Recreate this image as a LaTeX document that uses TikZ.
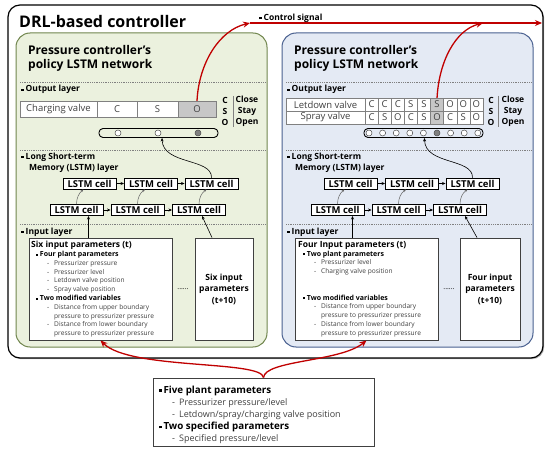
\documentclass[tikz,border=0pt]{standalone}
\usepackage{fontspec}
\setmainfont{Open Sans}
\usetikzlibrary{arrows.meta,shadows}

\definecolor{greenfill}{HTML}{EBF1DE}
\definecolor{greenline}{HTML}{71864E}
\definecolor{bluefill}{HTML}{E4EAF4}
\definecolor{blueline}{HTML}{4A6190}
\definecolor{sigred}{HTML}{C00000}
\definecolor{txtgray}{HTML}{404040}

\newcommand\fsz[2]{\fontsize{#1}{#2}\selectfont}
\newcommand\sqb{\rule[0.25ex]{0.5ex}{0.5ex}}
\newcommand\hdi[1]{{\fsz{8.5}{9}\bfseries\color{black}#1}}
\newcommand\hds[1]{{\fsz{7}{8}\bfseries\color{black}#1}}
\newcommand\hdb[1]{{\fsz{9.8}{12.2}\bfseries\color{black}#1}}
\newcommand\itm[1]{\hspace*{16pt}\makebox[7pt][l]{-}#1}
\newcommand\cnt[1]{\hspace*{23pt}#1}

\tikzset{
  panel/.style={line width=1pt, rounded corners=14pt, minimum width=251pt, minimum height=314pt},
  ptitle/.style={anchor=north west, align=left, inner sep=0pt, font=\fsz{12}{14}\bfseries},
  lbl/.style={anchor=base west, inner sep=0pt, font=\fsz{8.5}{11}\bfseries},
  sep/.style={draw=gray, densely dotted, line width=0.8pt},
  tcell/.style={draw=gray, fill=white, text=txtgray, font=\fsz{9.5}{10}, inner sep=0pt},
  cso/.style={align=center, inner sep=0pt, font=\fsz{8.5}{11}\bfseries},
  pill/.style={draw, line width=0.9pt, rounded corners=4pt, minimum width=119pt, minimum height=9pt, inner sep=0pt},
  dot/.style={circle, draw=black!70, fill=white, minimum size=6pt, inner sep=0pt, line width=0.5pt},
  lstm/.style={draw, line width=0.9pt, fill=white, font=\fsz{9.5}{10}\bfseries, minimum width=53pt, minimum height=11pt, inner sep=0pt},
  inbox/.style={draw=black!75, line width=0.9pt, fill=white, minimum height=102pt},
  intext/.style={anchor=north west, align=left, inner sep=0pt, text=txtgray, font=\fsz{6.6}{8.8}},
  redarr/.style={draw=sigred, line width=1.3pt, -{Stealth[length=7pt,width=6pt]}},
  blkarr/.style={draw=black, line width=0.6pt, -{Stealth[length=3.5pt,width=3pt]}},
  grayarr/.style={draw=black!60, line width=0.5pt, -{Stealth[length=3pt,width=2.5pt]}},
}

\begin{document}
\begin{tikzpicture}[x=1pt,y=-1pt]
\useasboundingbox (0,0) rectangle (550,452);

% DRL-based controller
\node (drl) [draw, line width=1.2pt, rounded corners=12pt, fill=white, minimum width=535pt, minimum height=353pt,
  drop shadow={shadow xshift=1.2pt, shadow yshift=-1.2pt, opacity=0.6}] at (275.5,181.5) {};
\node (drlt) [anchor=base west, inner sep=0pt, font=\fsz{16}{18}\bfseries] at (19,28) {DRL-based controller};
\node (sigl) [lbl, font=\fsz{8.5}{10}\bfseries] at (259,20.5) {\sqb\ Control signal};

% the two policy networks
\node (pnl) [panel, draw=greenline, fill=greenfill] at (141.5,190) {};
\node (pnr) [panel, draw=blueline, fill=bluefill] at (407.5,190) {};
\node (pnlt) [ptitle] at (28,45) {Pressure controller’s\\policy LSTM network};
\node (pnrt) [ptitle] at (294,45) {Pressure controller’s\\policy LSTM network};

\draw[sep] (20,82) -- (265,82);   \draw[sep] (286,82) -- (531,82);
\draw[sep] (20,150) -- (265,150); \draw[sep] (286,150) -- (531,150);
\draw[sep] (20,224) -- (265,224); \draw[sep] (286,224) -- (531,224);

\node (outl) [lbl] at (21,92) {\sqb\ Output layer};
\node (outr) [lbl] at (287,92) {\sqb\ Output layer};
\node (meml) [lbl, anchor=north west, align=left] at (21,152.5) {\sqb\ Long Short-term\\\hspace*{8pt}Memory (LSTM) layer};
\node (memr) [lbl, anchor=north west, align=left] at (287,152.5) {\sqb\ Long Short-term\\\hspace*{8pt}Memory (LSTM) layer};
\node (inl) [lbl] at (21,234) {\sqb\ Input layer};
\node (inr) [lbl] at (287,234) {\sqb\ Input layer};

% output layer, charging valve
\node (cv) [tcell, minimum width=77pt, minimum height=16pt] at (58.5,109) {Charging valve};
\node (cvC) [tcell, minimum width=40pt, minimum height=16pt] at (117,109) {C};
\node (cvS) [tcell, minimum width=41pt, minimum height=16pt] at (157.5,109) {S};
\node (cvO) [tcell, fill=black!22, minimum width=38pt, minimum height=16pt] at (197,109) {O};
\node (csol) [cso] at (225,111) {C\\S\\O};
\node (cosl) [cso] at (247,111) {Close\\Stay\\Open};
\draw[gray, line width=0.6pt] (233,96) -- (233,127);
\node (pl) [pill] at (158.5,133) {};
\node (pl1) [dot] at (118,133) {};
\node (pl2) [dot] at (158,133) {};
\node (pl3) [dot, fill=black!50] at (198,133) {};

% output layer, letdown and spray valves
\node (ld) [tcell, minimum width=79pt, minimum height=13pt] at (325.5,104.5) {Letdown valve};
\node (sp) [tcell, minimum width=79pt, minimum height=13pt] at (325.5,117.5) {Spray valve};
\foreach \v/\c [count=\k] in {C/white,C/white,C/white,S/white,S/white,S/black!22,O/white,O/white,O/white}
  \node (ld\k) [tcell, fill=\c, minimum width=13.1pt, minimum height=13pt] at ({358.45+13.1*\k},104.5) {\v};
\foreach \v/\c [count=\k] in {C/white,S/white,O/white,C/white,S/white,O/black!22,C/white,S/white,O/white}
  \node (sp\k) [tcell, fill=\c, minimum width=13.1pt, minimum height=13pt] at ({358.45+13.1*\k},117.5) {\v};
\node (csor) [cso] at (491,111) {C\\S\\O};
\node (cosr) [cso] at (513,111) {Close\\Stay\\Open};
\draw[gray, line width=0.6pt] (498,96) -- (498,127);
\node (pr) [pill] at (423.5,133) {};
\foreach \c [count=\k] in {white,white,white,white,white,black!50,white,white,white}
  \node (pr\k) [dot, fill=\c] at ({369+13.6*(\k-1)},133) {};

% LSTM cells
\node (lu1) [lstm] at (89.5,183.5) {LSTM cell};
\node (lu2) [lstm] at (151,183.5) {LSTM cell};
\node (lu3) [lstm] at (211.5,183.5) {LSTM cell};
\node (ll1) [lstm] at (76.5,210) {LSTM cell};
\node (ll2) [lstm] at (137.5,210) {LSTM cell};
\node (ll3) [lstm] at (199,210) {LSTM cell};
\node (ru1) [lstm] at (350.5,183.5) {LSTM cell};
\node (ru2) [lstm] at (412,183.5) {LSTM cell};
\node (ru3) [lstm] at (472.5,183.5) {LSTM cell};
\node (rl1) [lstm] at (337.5,210) {LSTM cell};
\node (rl2) [lstm] at (398.5,210) {LSTM cell};
\node (rl3) [lstm] at (460,210) {LSTM cell};

% input layer
\node (in1) [inbox, minimum width=143pt] at (100.5,289) {};
\node (in2) [inbox, minimum width=58pt, align=center, font=\fsz{8.5}{11.5}\bfseries] at (224,289) {Six input\\parameters\\(t+10)};
\node (in3) [inbox, minimum width=143pt] at (366.5,289) {};
\node (in4) [inbox, minimum width=60pt, align=center, font=\fsz{8.5}{11.5}\bfseries] at (490,289) {Four input\\parameters\\(t+10)};
\node (dl) [font=\fsz{7}{8}] at (183,289) {......};
\node (dr) [font=\fsz{7}{8}] at (449,289) {......};

\node (in1t) [intext] at (31,241) {\hdi{Six input parameters (t)}\\
  \hspace*{5pt}\hds{\sqb\ Four plant parameters}\\
  \itm{Pressurizer pressure}\\
  \itm{Pressurizer level}\\
  \itm{Letdown valve position}\\
  \itm{Spray valve position}\\
  \hspace*{5pt}\hds{\sqb\ Two modified variables}\\
  \itm{Distance from upper boundary}\\
  \cnt{pressure to pressurizer pressure}\\
  \itm{Distance from lower boundary}\\
  \cnt{pressure to pressurizer pressure}};
\node (in3t) [intext] at (298,241) {\hdi{Four Input parameters (t)}\\
  \hspace*{5pt}\hds{\sqb\ Two plant parameters}\\
  \itm{Pressurizer level}\\
  \itm{Charging valve position}\\[17.6pt]
  \hspace*{5pt}\hds{\sqb\ Two modified variables}\\
  \itm{Distance from upper boundary}\\
  \cnt{pressure to pressurizer pressure}\\
  \itm{Distance from lower boundary}\\
  \cnt{pressure to pressurizer pressure}};

% plant and specified parameters
\node (spec) [draw=black!75, line width=0.9pt, fill=white, minimum width=221pt, minimum height=68pt] at (263.5,412) {};
\node (spect) [anchor=north west, align=left, inner sep=0pt, text=txtgray, font=\fsz{9}{12.2}] at (159,385.5) {\hdb{\sqb\,Five plant parameters}\\
  \hspace*{13pt}-\hspace{4pt}Pressurizer pressure/level\\
  \hspace*{13pt}-\hspace{4pt}Letdown/spray/charging valve position\\
  \hdb{\sqb\,Two specified parameters}\\
  \hspace*{13pt}-\hspace{4pt}Specified pressure/level};

% connectors
\path (lu1) edge[blkarr] (lu2);
\path (lu2) edge[blkarr] (lu3);
\path (ll1) edge[blkarr] (ll2);
\path (ll2) edge[blkarr] (ll3);
\path (ru1) edge[blkarr] (ru2);
\path (ru2) edge[blkarr] (ru3);
\path (rl1) edge[blkarr] (rl2);
\path (rl2) edge[blkarr] (rl3);

\draw[grayarr] (ll1.north) .. controls (76.5,198) and (79,193) .. ([xshift=-6pt]lu1.south);
\draw[grayarr] (ll2.north) .. controls (137.5,198) and (140,193) .. ([xshift=-6pt]lu2.south);
\draw[grayarr] (ll3.north) .. controls (199,198) and (201.5,193) .. ([xshift=-5pt]lu3.south);
\draw[grayarr] (rl1.north) .. controls (337.5,198) and (340,193) .. ([xshift=-6pt]ru1.south);
\draw[grayarr] (rl2.north) .. controls (398.5,198) and (401,193) .. ([xshift=-6pt]ru2.south);
\draw[grayarr] (rl3.north) .. controls (460,198) and (462.5,193) .. ([xshift=-5pt]ru3.south);

\draw[blkarr] ([xshift=-12pt]in1.north) -- ([xshift=-12pt]in1.north |- ll1.south);
\draw[blkarr] ([xshift=-12pt]in2.north) -- ([xshift=3pt]ll3.south);
\draw[blkarr] ([xshift=-14pt]in3.north) -- ([xshift=-14pt]in3.north |- rl1.south);
\draw[blkarr] ([xshift=-13pt]in4.north) -- ([xshift=5pt]rl3.south);

\draw[blkarr] (lu3.north) .. controls (212,158) and (163,165) .. ([xshift=3.5pt]pl.south);
\draw[blkarr] (ru3.north) .. controls (473,158) and (425,165) .. ([xshift=1pt]pr.south);

\coordinate (sig1) at (250,23);
\coordinate (sig2) at (483,23);
\coordinate (sigend) at (542,23);
\draw[redarr] (sig1) -- (sigend);
\draw[redarr] (cvO.north) .. controls (199,62) and (220,30) .. (sig1);
\draw[redarr] (ld6.north) .. controls (439,62) and (455,30) .. (sig2);

\draw[redarr] (spec.north) .. controls (262,360) and (130,370) .. (in1.south);
\draw[redarr] (spec.north) .. controls (265,360) and (340,362) .. (in3.south);
\end{tikzpicture}
\end{document}
